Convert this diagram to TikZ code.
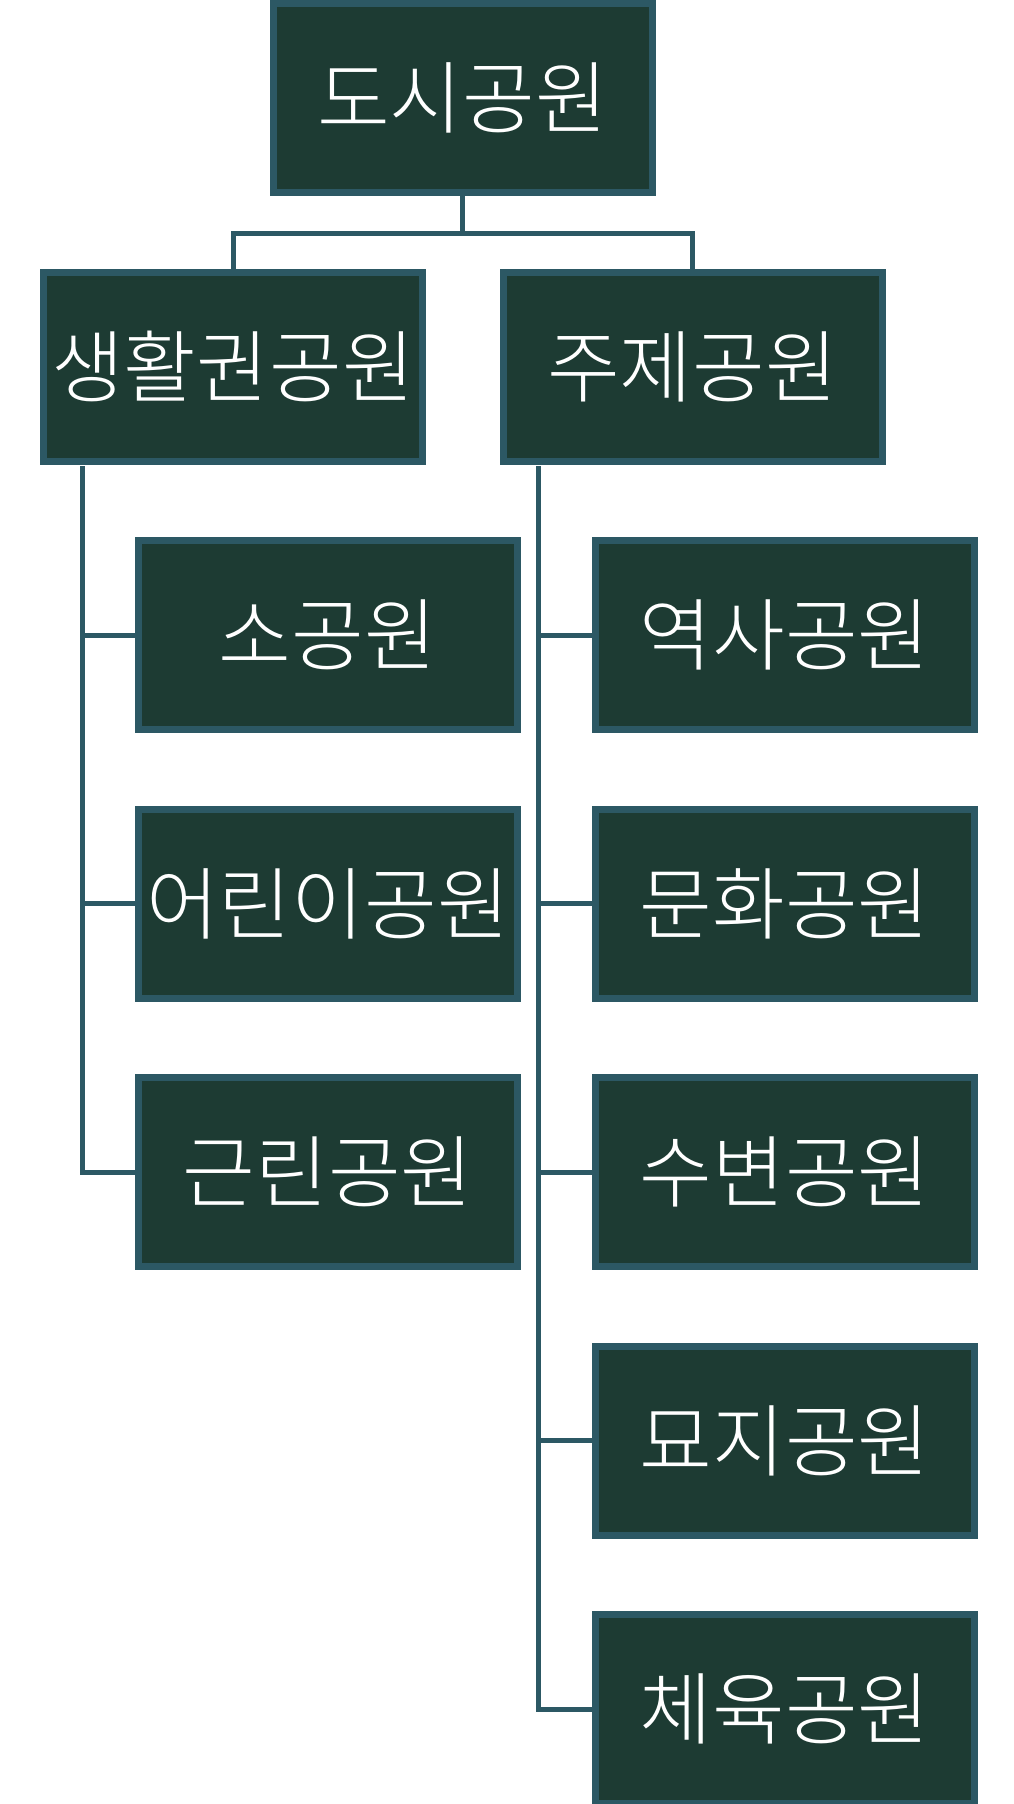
\documentclass[tikz,border=0pt]{standalone}
\usepackage{fontspec}
\newfontfamily\krfont{Noto Sans CJK KR Light}
\definecolor{parkfill}{HTML}{1D3B33}
\definecolor{parkline}{HTML}{2C5864}
\begin{document}
\begin{tikzpicture}[x=1pt, y=1pt,
    parkbox/.style={draw=parkline, fill=parkfill, line width=7pt,
      minimum width=379pt, minimum height=189pt, inner sep=0pt,
      text=white, font=\krfont\fontsize{79}{86}\selectfont},
    link/.style={draw=parkline, line width=5pt}]

    % Fix the page to the size of the picture
    \useasboundingbox (0,0) rectangle (1014,-1804);

    % The root and the two main groups
    \node[parkbox] (city) at (462.5,-98) {도시공원};
    \node[parkbox] (life) at (233,-366.5) {생활권공원};
    \node[parkbox] (theme) at (692.5,-366.5) {주제공원};

    % Parks under the first group
    \node[parkbox] (small) at (328,-635) {소공원};
    \node[parkbox] (child) at (328,-903.5) {어린이공원};
    \node[parkbox] (near) at (328,-1172) {근린공원};

    % Parks under the second group
    \node[parkbox] (history) at (785,-635) {역사공원};
    \node[parkbox] (culture) at (785,-903.5) {문화공원};
    \node[parkbox] (water) at (785,-1172) {수변공원};
    \node[parkbox] (grave) at (785,-1440.5) {묘지공원};
    \node[parkbox] (sport) at (785,-1709) {체육공원};

    % Where the lines branch off
    \coordinate (Bar) at (462.5,-233);
    \coordinate (LifeTrunk) at (82,-466);
    \coordinate (ThemeTrunk) at (538.5,-466);

    % Root to the two groups
    \draw[link] (city.south) -- (Bar) -| (life.north);
    \draw[link] (Bar) -| (theme.north);

    % First group to its parks
    \draw[link] (LifeTrunk) |- (small.west);
    \draw[link] (LifeTrunk) |- (child.west);
    \draw[link] (LifeTrunk) |- (near.west);

    % Second group to its parks
    \draw[link] (ThemeTrunk) |- (history.west);
    \draw[link] (ThemeTrunk) |- (culture.west);
    \draw[link] (ThemeTrunk) |- (water.west);
    \draw[link] (ThemeTrunk) |- (grave.west);
    \draw[link] (ThemeTrunk) |- (sport.west);

\end{tikzpicture}
\end{document}
